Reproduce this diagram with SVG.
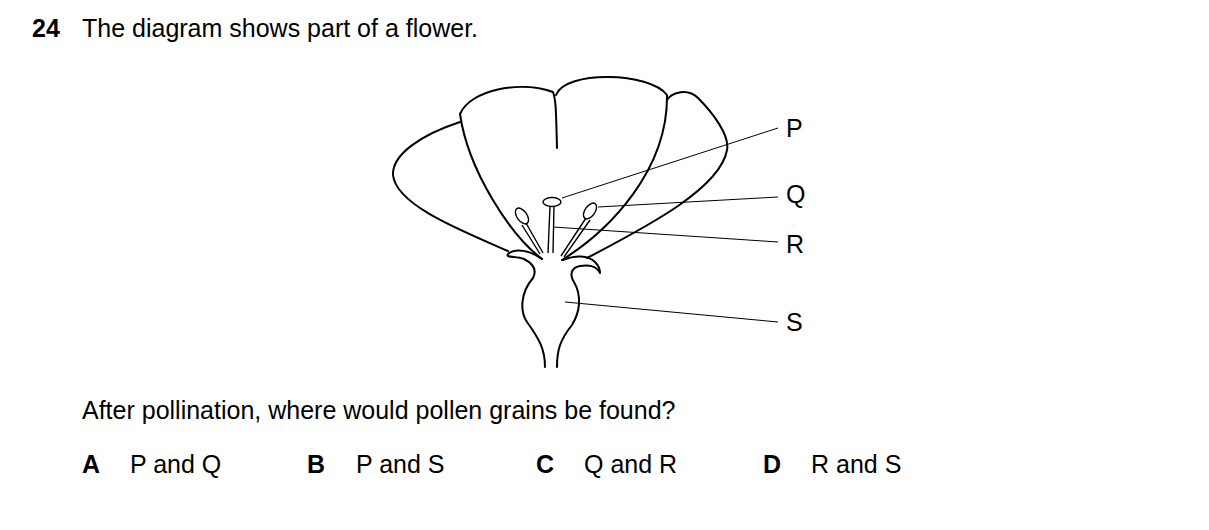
<svg xmlns="http://www.w3.org/2000/svg" width="1209" height="530" viewBox="0 0 1209 530">
<style>
text{font-family:"Liberation Sans",Arial,sans-serif;font-size:25px;fill:#000}
.b{font-weight:bold}
.o{fill:none;stroke:#000;stroke-width:2;stroke-linejoin:round;stroke-linecap:round}
.t{fill:none;stroke:#000;stroke-width:1.4}
.l{stroke:#000;stroke-width:1}
</style>
<rect width="1209" height="530" fill="#fff"/>
<text x="32" y="37" class="b">24</text>
<text x="82" y="37">The diagram shows part of a flower.</text>
<g id="flower">
<path class="o" d="M460,122 C420,135 392,155 393,175 C396,205 460,230 508,251"/>
<path class="o" d="M460,114 C470,90 520,80 553,92 C556,100 556,110 557,148"/>
<path class="o" d="M460,114 C468,170 510,235 542,259"/>
<path class="o" d="M556,95 C565,70 650,72 667,95 C668,170 610,230 562,260"/>
<path class="o" d="M667,100 C672,92 688,88 698,98 C712,112 730,135 727,150 C720,190 640,230 587,258"/>
<path class="o" d="M542,259 C530,250 515,248 508,254 C505,258 516,256 524,259 C536,265 536,272 533,278 C520,293 520,312 527,322 C540,340 545,350 545,367"/>
<path class="o" d="M563,260 C575,255 588,255 595,262 C600,267 600,272 600,273 C596,265 588,265 580,266 C570,268 570,276 574,282 C582,296 580,312 572,325 C560,340 557,350 557,367"/>
</g>
<g id="pistil">
<ellipse class="t" cx="552" cy="202" rx="9" ry="4.5"/>
<path class="t" d="M550,206 L548,253 M554,206 L553,253"/>
</g>
<g id="stamens">
<ellipse class="t" cx="522" cy="216" rx="5" ry="9" transform="rotate(-35 522 216)"/>
<path class="t" d="M526,223 L543,253 M522,225 L540,254"/>
<ellipse class="t" cx="590" cy="211" rx="5" ry="9" transform="rotate(35 590 211)"/>
<path class="t" d="M586,218 L561,256 M590,220 L564,257"/>
</g>
<g id="connectors">
<line class="l" x1="562" y1="198" x2="778" y2="128"/>
<line class="l" x1="598" y1="207" x2="778" y2="197"/>
<line class="l" x1="553" y1="227" x2="778" y2="242"/>
<line class="l" x1="565" y1="302" x2="778" y2="322"/>
</g>
<g id="labels">
<text x="786" y="137">P</text>
<text x="786" y="203">Q</text>
<text x="786" y="253">R</text>
<text x="786" y="331">S</text>
</g>
<text x="82" y="419">After pollination, where would pollen grains be found?</text>
<text x="82" y="473" class="b">A</text><text x="130" y="473">P and Q</text>
<text x="307" y="473" class="b">B</text><text x="356" y="473">P and S</text>
<text x="536" y="473" class="b">C</text><text x="584" y="473">Q and R</text>
<text x="763" y="473" class="b">D</text><text x="811" y="473">R and S</text>
</svg>
